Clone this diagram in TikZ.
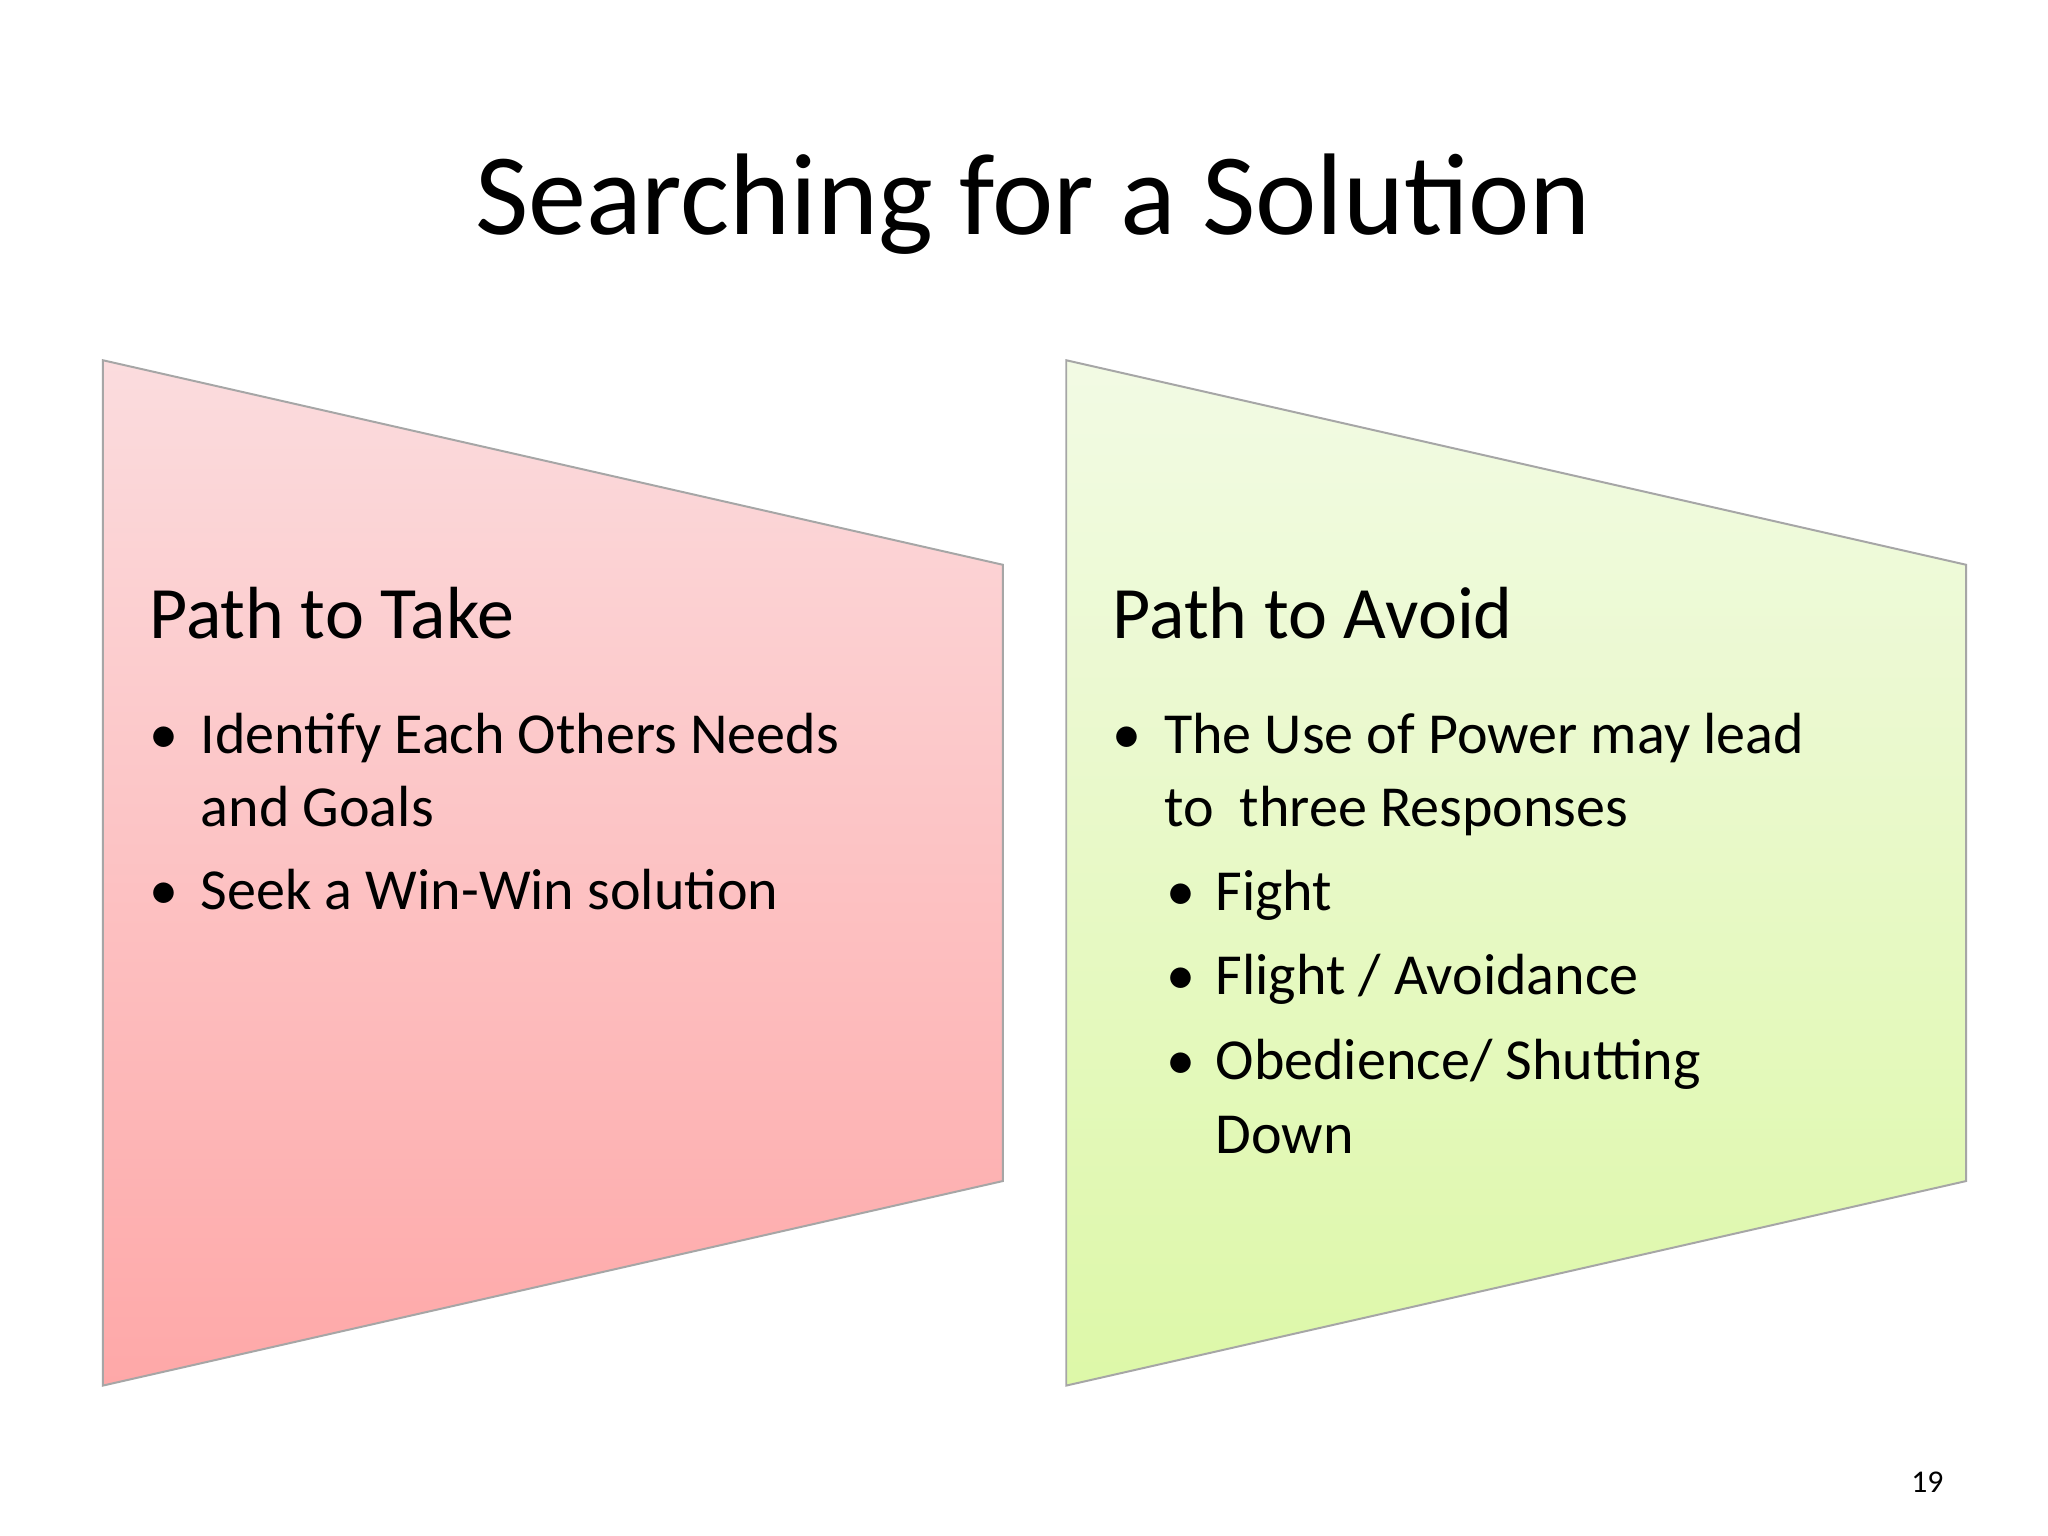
\documentclass[tikz,border=0pt]{standalone}
\usepackage{fontspec}
\setmainfont{Carlito}
\begin{document}
\begin{tikzpicture}[x=1pt,y=-1pt,
  txt/.style={anchor=base west,inner sep=0pt,font=\fontsize{44}{50}\selectfont},
  head/.style={anchor=base west,inner sep=0pt,font=\fontsize{56}{60}\selectfont},
  panel/.style={draw=black!35,line width=1.5pt}]
\useasboundingbox (0,0) rectangle (1552,1164);
\fill[white] (0,0) rectangle (1552,1164);
\node[anchor=base,inner sep=0pt,font=\fontsize{88}{90}\selectfont] (title) at (783,178) {Searching for a Solution};
\definecolor{pinkT}{RGB}{251,220,222}\definecolor{pinkB}{RGB}{254,168,168}
\definecolor{greenT}{RGB}{242,250,228}\definecolor{greenB}{RGB}{221,248,168}
\shade[top color=pinkT,bottom color=pinkB] (78,273) -- (760,428) -- (760,895) -- (78,1050) -- cycle;
\draw[panel] (78,273) -- (760,428) -- (760,895) -- (78,1050) -- cycle;
\shade[top color=greenT,bottom color=greenB] (808,273) -- (1490,428) -- (1490,895) -- (808,1050) -- cycle;
\draw[panel] (808,273) -- (1490,428) -- (1490,895) -- (808,1050) -- cycle;
\node[head] (h1) at (113,484) {Path to Take};
\node[txt] (b1) at (113,571) {\textbullet};
\node[txt] (t1) at (152,571) {Identify Each Others Needs};
\node[txt] (t1b) at (152,626) {and Goals};
\node[txt] (b2) at (113,689) {\textbullet};
\node[txt] (t2) at (152,689) {Seek a Win-Win solution};
\node[head] (h2) at (843,484) {Path to Avoid};
\node[txt] (b3) at (843,571) {\textbullet};
\node[txt] (t3) at (882,571) {The Use of Power may lead};
\node[txt] (t3b) at (882,626) {to~ three Responses};
\node[txt] (b4) at (884,690) {\textbullet};
\node[txt] (t4) at (921,690) {Fight};
\node[txt] (b5) at (884,754) {\textbullet};
\node[txt] (t5) at (921,754) {Flight / Avoidance};
\node[txt] (b6) at (884,818) {\textbullet};
\node[txt] (t6) at (921,818) {Obedience/ Shutting};
\node[txt] (t6b) at (921,874) {Down};
\node[anchor=base east,inner sep=0pt,font=\fontsize{24}{26}\selectfont] (pg) at (1473,1131) {19};
\end{tikzpicture}
\end{document}
